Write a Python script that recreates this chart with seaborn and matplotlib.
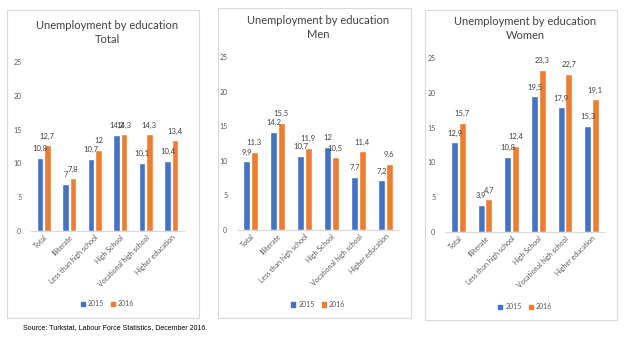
import matplotlib
matplotlib.use("Agg")
import matplotlib.pyplot as plt
import seaborn as sns
import pandas as pd
from matplotlib.patches import Rectangle

categories = ["Total", "Illiterate", "Less than high school", "High School",
              "Vocational high school", "Higher education"]
years = ["2015", "2016"]
total_2015 = [10.8, 7, 10.7, 14.2, 10.1, 10.4]
total_2016 = [12.7, 7.8, 12, 14.3, 14.3, 13.4]
men_2015 = [9.9, 14.2, 10.7, 12, 7.7, 7.2]
men_2016 = [11.3, 15.5, 11.9, 10.5, 11.4, 9.6]
women_2015 = [12.9, 3.9, 10.8, 19.5, 17.9, 15.3]
women_2016 = [15.7, 4.7, 12.4, 23.3, 22.7, 19.1]
subtitles = ["Total", "Men", "Women"]
title = "Unemployment by education"
source = "Source: Turkstat, Labour Force Statistics, December 2016."

sns.set_theme(style="white")
plt.rcParams["font.family"] = ["Lato", "DejaVu Sans"]

BLUE = "#4472C4"
ORANGE = "#ED7D31"
GRAY = "#595959"

W, H = 625, 338
fig = plt.figure(figsize=(W / 100, H / 100), dpi=100)

panels = [
    (subtitles[0], total_2015, total_2016),
    (subtitles[1], men_2015, men_2016),
    (subtitles[2], women_2015, women_2016),
]
axes_px = [(31, 184, 231, 62), (237, 399, 230, 57), (445, 605, 232, 58)]
box_px = [(7, 199, 10, 318), (218, 411, 8, 318), (425, 617, 10, 320)]

for (sub, v15, v16), (ax0, ax1, yb, yt), (bx0, bx1, bt, bb) in zip(panels, axes_px, box_px):
    fig.patches.append(Rectangle((bx0 / W, 1 - bb / H), (bx1 - bx0) / W, (bb - bt) / H,
                                 transform=fig.transFigure, fill=False,
                                 edgecolor="#d9d9d9", linewidth=0.8))
    ax = fig.add_axes([ax0 / W, 1 - yb / H, (ax1 - ax0) / W, (yb - yt) / H])
    df = pd.DataFrame({
        "category": categories * 2,
        "year": [years[0]] * len(categories) + [years[1]] * len(categories),
        "value": list(v15) + list(v16),
    })
    sns.barplot(data=df, x="category", y="value", hue="year", order=categories,
                hue_order=years, palette=[BLUE, ORANGE], width=0.56, gap=0.08,
                saturation=1, ax=ax, legend=False)
    for cont, vals in zip(ax.containers, [v15, v16]):
        labels = [f"{v:g}".replace(".", ",") for v in vals]
        ax.bar_label(cont, labels=labels, padding=4, fontsize=5.5, color="#404040")
    ax.set_ylim(0, 25)
    ax.set_xlim(-0.5, 5.5)
    ax.set_yticks([0, 5, 10, 15, 20, 25])
    ax.set_xlabel("")
    ax.set_ylabel("")
    for s in ["top", "right", "left"]:
        ax.spines[s].set_visible(False)
    ax.spines["bottom"].set_color("#d9d9d9")
    ax.spines["bottom"].set_linewidth(0.8)
    ax.tick_params(axis="y", labelsize=5, colors=GRAY, length=0, pad=7)
    ax.tick_params(axis="x", labelsize=5, colors=GRAY, length=0, pad=2)
    ax.set_xticks(range(len(categories)))
    ax.set_xticklabels(categories, rotation=45, ha="right", rotation_mode="anchor")
    ax.set_title(f"{title}\n{sub}", fontsize=8, color="#404040", pad=14, linespacing=1.3)
    handles = [Rectangle((0, 0), 1, 1, color=BLUE), Rectangle((0, 0), 1, 1, color=ORANGE)]
    ax.legend(handles, years, loc="center", bbox_to_anchor=(0.5, -0.43), ncol=2,
              frameon=False, fontsize=5, handlelength=0.6, handleheight=0.6,
              handletextpad=0.4, columnspacing=1.0, labelcolor=GRAY)

fig.text(23 / W, 1 - 328 / H, source, fontsize=5, family="Liberation Sans",
         color="black", va="center", ha="left")

fig.savefig("out.png", dpi=100)
